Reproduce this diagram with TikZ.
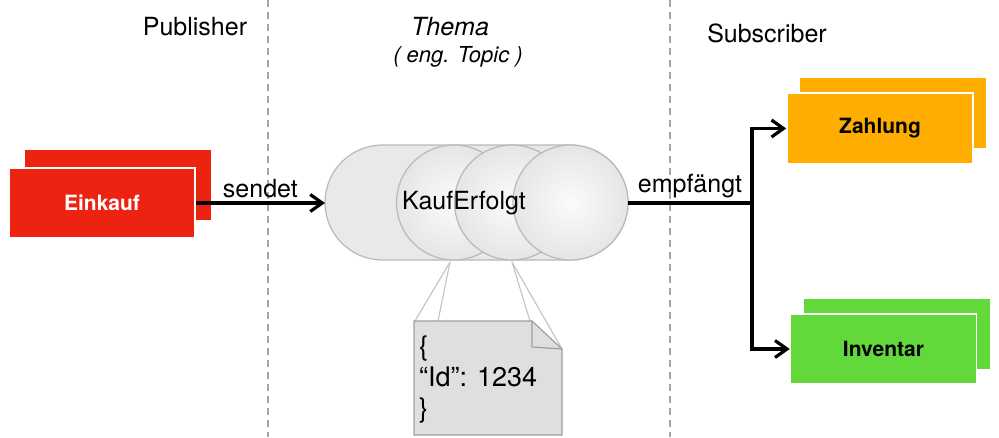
\documentclass[tikz,border=0pt]{standalone}
\usepackage{fontspec}
\setmainfont{TeX Gyre Heros}
\usetikzlibrary{arrows.meta}
\definecolor{buyred}{RGB}{238,34,17}
\definecolor{payorange}{RGB}{255,173,0}
\definecolor{stockgreen}{RGB}{99,216,58}
\tikzset{
card/.style={minimum width=186pt, minimum height=70pt, inner sep=0pt, font=\fontsize{21}{25}\selectfont\bfseries},
cardfront/.style={card, draw=white, line width=1.5pt},
flow/.style={line width=3.2pt, -{Straight Barb[length=12pt,width=17pt]}},
lane/.style={gray!70, line width=1.8pt, dash pattern=on 7pt off 5pt},
lanetext/.style={font=\fontsize{25}{30}\selectfont},
disc/.style={draw=gray!55, line width=1.2pt, inner color=gray!3, outer color=gray!20},
hint/.style={gray!45, line width=1.2pt},
}
\begin{document}
\begin{tikzpicture}[x=1pt, y=-1pt]

                \useasboundingbox (0,0) rectangle (999,437);

                % lanes
                \draw[lane] (268,0) -- (268,437);
                \draw[lane] (670,0) -- (670,437);

                \node[lanetext] (pub) at (195,27) {Publisher};
                \node[lanetext, font=\fontsize{25}{30}\selectfont\itshape] (thema) at (450,27) {Thema};
                \node[lanetext, font=\fontsize{22}{26}\selectfont\itshape] (eng) at (458,57) {(\ eng. Topic\ )};
                \node[lanetext] (sub) at (767,33) {Subscriber};

                % publisher
                \node[card, fill=buyred] (einkaufback) at (118,185) {};
                \node[cardfront, fill=buyred, text=white] (einkauf) at (102,203) {Einkauf};

                % subscribers
                \node[card, fill=payorange] (zahlungback) at (893,113) {};
                \node[cardfront, fill=payorange, minimum height=71pt] (zahlung) at (880,128.5) {Zahlung};
                \node[card, fill=stockgreen] (inventarback) at (897,334) {};
                \node[cardfront, fill=stockgreen] (inventar) at (883.5,349) {Inventar};

                % callout to the message
                \coordinate (c1) at (450,262);
                \coordinate (c2) at (512,262);
                \draw[hint] (c1) -- (415,321);
                \draw[hint] (c1) -- (438,321);
                \draw[hint] (c2) -- (530,321);
                \draw[hint] (c2) -- (562,349);

                % topic
                \draw[draw=gray!55, line width=1.2pt, fill=gray!17, rounded corners=57.5pt] (325,145) rectangle (628,260);
                \foreach \cx in {454,512,570.5}
                    \draw[disc] (\cx,202.5) circle[radius=57.5pt];
                \node[lanetext] (topic) at (464,203) {KaufErfolgt};
                \coordinate (topicin) at (325,203);
                \coordinate (topicout) at (628,203);
                \coordinate (split) at (752,203);

                % message
                \draw[draw=gray!75, line width=1.2pt, fill=gray!25] (414,321) -- (532,321) -- (562,349) -- (562,435) -- (414,435) -- cycle;
                \draw[draw=gray!75, line width=1.2pt] (532,321) -- (532,347) -- (562,349);
                \node[anchor=north west, align=left, inner sep=0pt, font=\fontsize{27}{31}\selectfont] (msg) at (419,336) {\{\\“Id”: 1234\\\}};

                % connectors
                \draw[flow] (einkauf.east) -- (topicin) node[midway, above=0pt, lanetext] (sendet) {sendet};
                \draw[line width=3.2pt] (topicout) -- (split) node[midway, above=0pt, lanetext] (empf) {empfängt};
                \draw[flow] (split) |- (zahlung.west);
                \draw[flow] (split) |- (inventar.west);

            \end{tikzpicture}
\end{document}
